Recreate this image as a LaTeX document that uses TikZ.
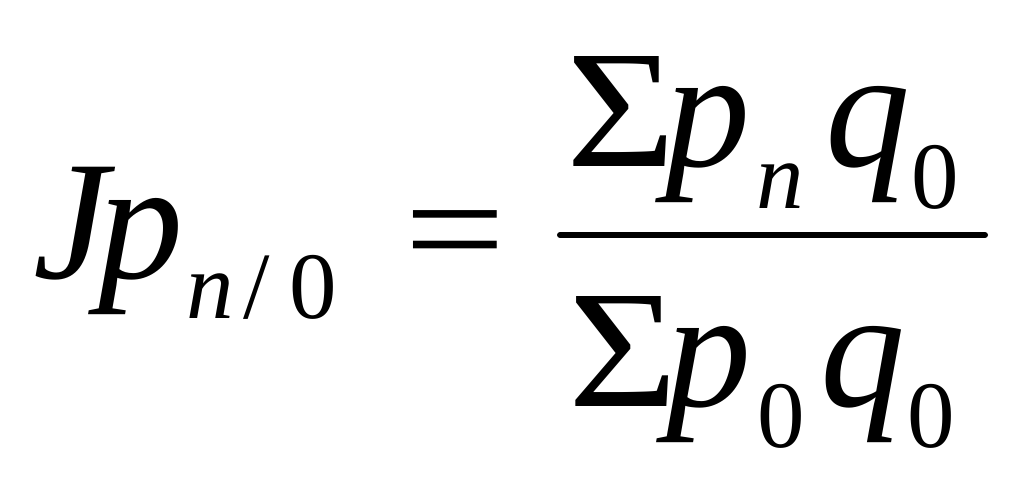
\documentclass[tikz,border=0pt]{standalone}
\usepackage{fontspec}
\setmainfont{Liberation Serif}
\begin{document}
\begin{tikzpicture}[x=1pt,y=-1pt,
  every node/.style={inner sep=0pt,outer sep=0pt,anchor=base west},
  bigit/.style={font=\fontsize{170}{170}\selectfont\itshape},
  bigrm/.style={font=\fontsize{168}{168}\selectfont,xscale=1.12},
  subit/.style={font=\fontsize{95}{95}\selectfont\itshape},
  subrm/.style={font=\fontsize{95}{95}\selectfont},
  eqsign/.style={font=\fontsize{180}{180}\selectfont,yscale=0.85},
  barline/.style={line width=6pt,line cap=round}]
\useasboundingbox (0,0) rectangle (1024,484);
% left side
\node[bigit] (J) at (33,278) {J};
\node[bigit] (p1) at (98,278) {p};
\node[subit] (n1) at (186,318) {n};
\node[subrm] (sl) at (243,318) {/};
\node[subrm] (z1) at (289,318) {0};
\node[eqsign] (eq) at (404,280) {=};
% fraction bar
\coordinate (fl) at (560,235);
\coordinate (fr) at (985,235);
\draw[barline] (fl) -- (fr);
% numerator
\node[bigrm] (S1) at (566,166) {Σ};
\node[bigit] (p2) at (665,166) {p};
\node[subit] (n2) at (756,208) {n};
\node[bigit] (q2) at (825,166) {q};
\node[subrm] (z2) at (911,208) {0};
% denominator
\node[bigrm] (S2) at (568,406) {Σ};
\node[bigit] (p3) at (666,406) {p};
\node[subrm] (z3) at (757,447) {0};
\node[bigit] (q3) at (820,406) {q};
\node[subrm] (z4) at (907,447) {0};
\end{tikzpicture}
\end{document}
